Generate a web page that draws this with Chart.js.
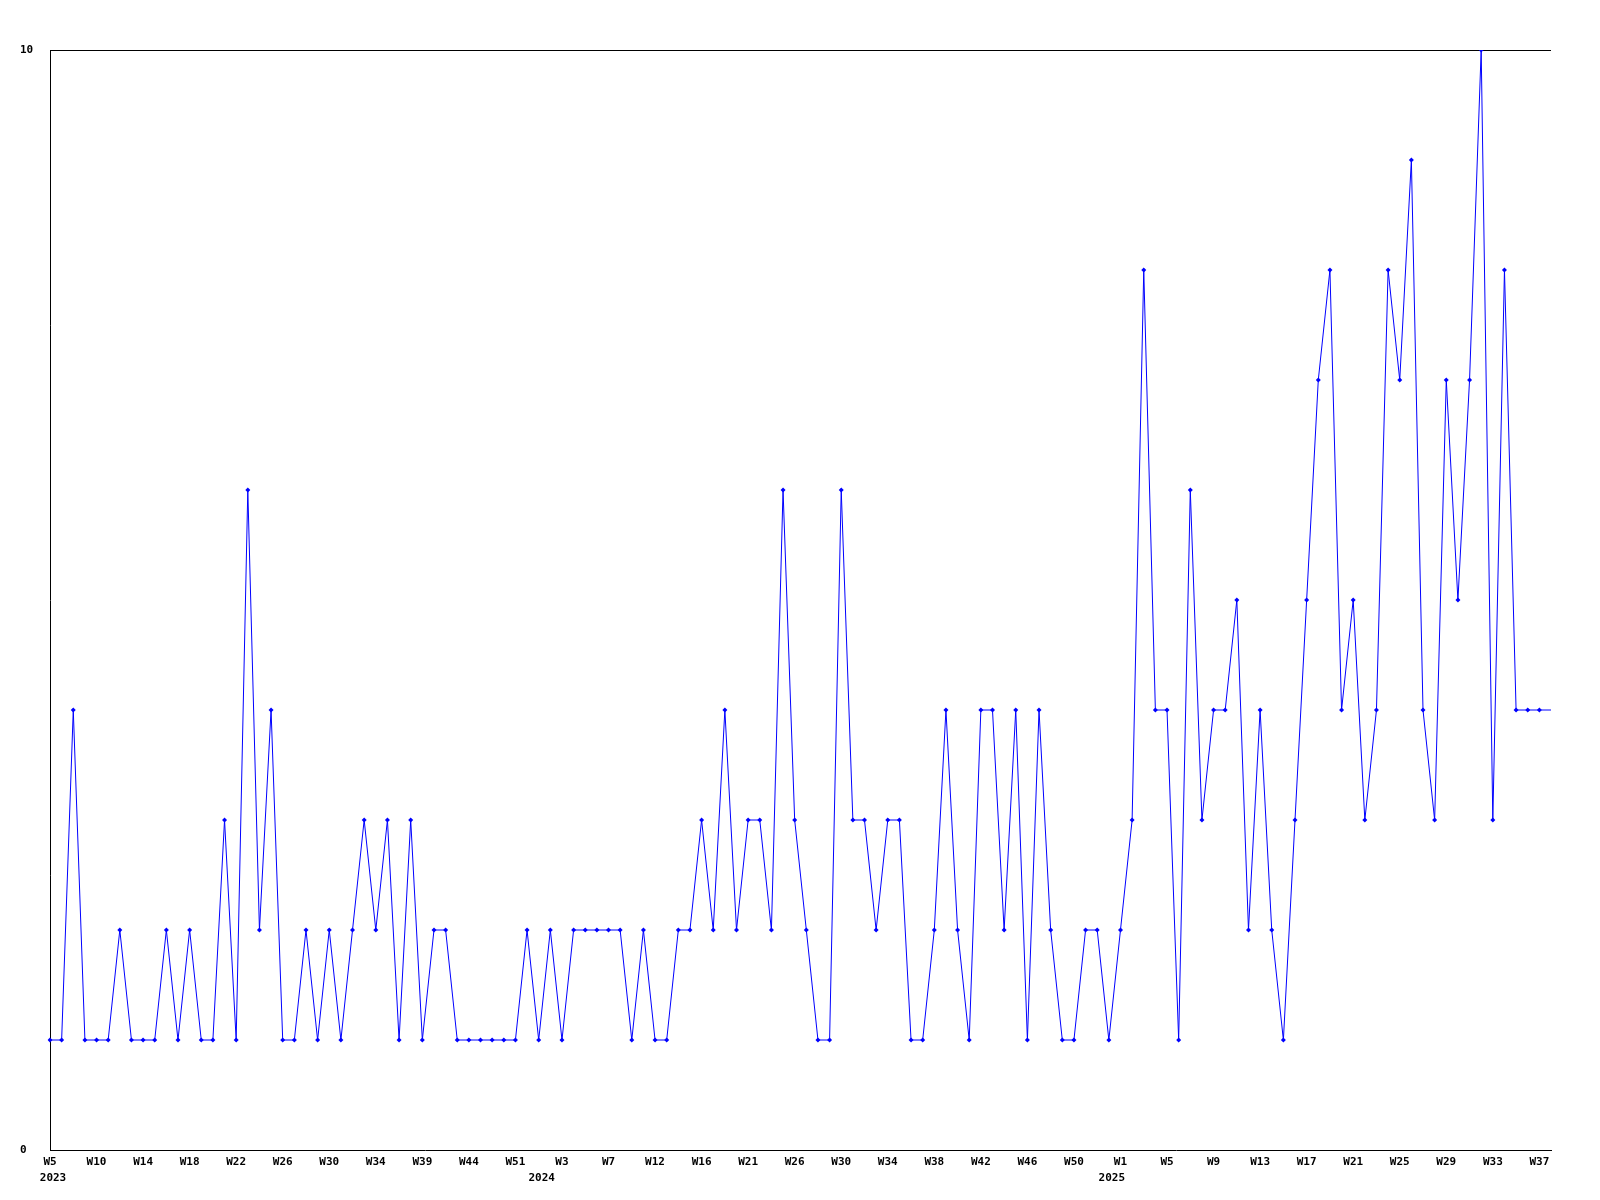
<!DOCTYPE html>
<html>
<head>
<meta charset="utf-8">
<script src="https://cdn.jsdelivr.net/npm/chart.js@4/dist/chart.umd.min.js"></script>
<style>
  body { margin: 0; background: #fff; }
  canvas { display: block; }
</style>
</head>
<body>
<canvas id="weekly-chart" width="1600" height="1200"></canvas>
<script>
// semanas (una por punto), solo se muestra una de cada 4
const weekLabels = [
    'W5', 'W6', 'W7', 'W8', 'W10', 'W11', 'W12', 'W13', 'W14', 'W15',
    'W16', 'W17', 'W18', 'W19', 'W20', 'W21', 'W22', 'W23', 'W24', 'W25',
    'W26', 'W27', 'W28', 'W29', 'W30', 'W31', 'W32', 'W33', 'W34', 'W35',
    'W36', 'W37', 'W39', 'W40', 'W41', 'W42', 'W44', 'W45', 'W47', 'W49',
    'W51', 'W52', 'W1', 'W2', 'W3', 'W4', 'W5', 'W6', 'W7', 'W8',
    'W9', 'W10', 'W12', 'W13', 'W14', 'W15', 'W16', 'W17', 'W18', 'W19',
    'W21', 'W22', 'W23', 'W24', 'W26', 'W27', 'W28', 'W29', 'W30', 'W31',
    'W32', 'W33', 'W34', 'W35', 'W36', 'W37', 'W38', 'W39', 'W40', 'W41',
    'W42', 'W43', 'W44', 'W45', 'W46', 'W47', 'W48', 'W49', 'W50', 'W51',
    'W52', 'W0', 'W1', 'W2', 'W3', 'W4', 'W5', 'W6', 'W7', 'W8',
    'W9', 'W10', 'W11', 'W12', 'W13', 'W14', 'W15', 'W16', 'W17', 'W18',
    'W19', 'W20', 'W21', 'W22', 'W23', 'W24', 'W25', 'W26', 'W27', 'W28',
    'W29', 'W30', 'W31', 'W32', 'W33', 'W34', 'W35', 'W36', 'W37', 'W38'
];

const counts = [
    1, 1, 4, 1, 1, 1, 2, 1, 1, 1, 2, 1, 2, 1, 1, 3, 1, 6,
    2, 4, 1, 1, 2, 1, 2, 1, 2, 3, 2, 3, 1, 3, 1, 2, 2, 1, 1, 1,
    1, 1, 1, 2, 1, 2, 1, 2, 2, 2, 2, 2, 1, 2, 1, 1, 2, 2, 3, 2, 4,
    2, 3, 3, 2, 6, 3, 2, 1, 1, 6, 3, 3, 2, 3, 3, 1, 1, 2, 4, 2, 1,
    4, 4, 2, 4, 1, 4, 2, 1, 1, 2, 2, 1, 2, 3, 8, 4, 4, 1, 6, 3,
    4, 4, 5, 2, 4, 2, 1, 3, 5, 7, 8,
    4, 5, 3, 4, 8, 7, 9, 4, 3, 7, 5, 7, 10, 3, 8, 4, 4, 4, 4
];

// años y primer punto de cada año
const yearLabels = ['2023', '2024', '2025'];
const yearStartIndex = [0, 42, 91];

const yTicks = [0, 10];

const fuente = { family: '"DejaVu Sans Mono", "Liberation Mono", monospace', size: 11, weight: 'bold' };

// dibuja el año debajo de la etiqueta de semana
const yearPlugin = {
    id: 'yearLabels',
    afterDraw(chart) {
        const ctx = chart.ctx;
        const xScale = chart.scales.x;
        ctx.save();
        ctx.font = 'bold 11px "DejaVu Sans Mono", "Liberation Mono", monospace';
        ctx.fillStyle = '#000';
        ctx.textAlign = 'center';
        ctx.textBaseline = 'middle';
        yearLabels.forEach((year, i) => {
            const x = xScale.getPixelForValue(yearStartIndex[i]) + 3;
            ctx.fillText(year, x, chart.chartArea.bottom + 28);
        });
        ctx.restore();
    }
};

// la semana en curso (ultimo punto) va sin marcador
const radios = counts.map((v, i) => (i === counts.length - 1 ? 0 : 2.5));

const ctx = document.getElementById('weekly-chart').getContext('2d');
new Chart(ctx, {
    type: 'line',
    data: {
        labels: weekLabels,
        datasets: [{
            data: counts,
            borderColor: '#0000ff',
            backgroundColor: '#0000ff',
            borderWidth: 1,
            tension: 0,
            fill: false,
            pointStyle: 'rectRot',
            pointRadius: radios,
            pointBorderWidth: 0,
            pointHoverRadius: radios
        }]
    },
    options: {
        responsive: false,
        animation: false,
        layout: { padding: { left: 20, top: 50, right: 49, bottom: 0 } },
        plugins: {
            legend: { display: false },
            tooltip: { enabled: false }
        },
        scales: {
            x: {
                offset: false,
                afterFit: scale => { scale.height = 50; },
                grid: { display: false, drawTicks: false },
                border: { display: true, color: '#000', width: 1 },
                ticks: {
                    autoSkip: false,
                    maxRotation: 0,
                    minRotation: 0,
                    padding: 6,
                    color: '#000',
                    font: fuente,
                    callback: (val, i) => (i % 4 === 0 ? weekLabels[i] : '')
                }
            },
            y: {
                min: yTicks[0],
                max: yTicks[1],
                afterFit: scale => { scale.width = 30; },
                afterBuildTicks: scale => { scale.ticks = yTicks.map(v => ({ value: v })); },
                grid: {
                    drawTicks: false,
                    color: c => (c.tick && c.tick.value === 10 ? '#000' : 'rgba(0,0,0,0)'),
                    lineWidth: 1
                },
                border: { display: true, color: '#000', width: 1 },
                ticks: {
                    crossAlign: 'far',
                    padding: 0,
                    color: '#000',
                    font: fuente
                }
            }
        }
    },
    plugins: [yearPlugin]
});
</script>
</body>
</html>
